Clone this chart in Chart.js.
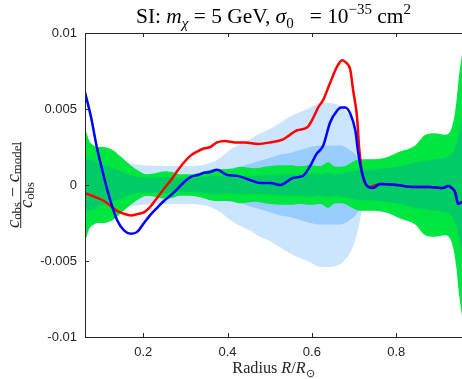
<!DOCTYPE html>
<html>
<head>
<meta charset="utf-8">
<script src="https://cdn.jsdelivr.net/npm/chart.js@4.4.1/dist/chart.umd.min.js"></script>
<style>
    html, body { margin: 0; padding: 0; background: #ffffff; }
</style>
</head>
<body>
<canvas id="residuals" width="462" height="379"></canvas>
<script>
(function () {
    "use strict";

    var xTicks = [0.2, 0.4, 0.6, 0.8];
    var yTicks = [-0.01, -0.005, 0, 0.005, 0.01];

    // green bands: half widths about zero
    var greenR = [0.062, 0.067, 0.072, 0.083, 0.095, 0.107, 0.12, 0.128, 0.145, 0.162, 0.185, 0.209, 0.233, 0.252, 0.268,
        0.287, 0.311, 0.335, 0.37, 0.406, 0.43, 0.465, 0.501, 0.525, 0.548, 0.572, 0.596, 0.62, 0.639, 0.655,
        0.679, 0.695, 0.714, 0.738, 0.774, 0.809, 0.845, 0.869, 0.892, 0.916, 0.933, 0.942, 0.949, 0.956];
    var greenOuter = [0.0037, 0.0033, 0.0029, 0.0026, 0.0025, 0.0025, 0.0024, 0.0023, 0.0019, 0.0015, 0.001, 0.0007, 0.0008, 0.0009, 0.00085,
        0.0007, 0.0007, 0.0008, 0.00105, 0.00105, 0.0012, 0.0011, 0.00125, 0.0013, 0.0013, 0.00125, 0.0013, 0.00125, 0.0015, 0.0012,
        0.00125, 0.0015, 0.0017, 0.0017, 0.0018, 0.0022, 0.0026, 0.0033, 0.0034, 0.0033, 0.0039, 0.0053, 0.0072, 0.0086];
    var greenInner = [0.0018, 0.0017, 0.0017, 0.0016, 0.0014, 0.0013, 0.0012, 0.0011, 0.0009, 0.0007, 0.00055, 0.0005, 0.0005, 0.00055, 0.0005,
        0.00045, 0.00045, 0.0005, 0.0006, 0.00055, 0.0006, 0.0006, 0.00065, 0.0007, 0.0007, 0.0007, 0.00075, 0.0007, 0.0008, 0.0007,
        0.0008, 0.0009, 0.001, 0.001, 0.0011, 0.00125, 0.0015, 0.0016, 0.0017, 0.0018, 0.0021, 0.0027, 0.0035, 0.0045];

    // blue bands: half widths about zero
    var blueBandR = [0.062, 0.1, 0.15, 0.2, 0.25, 0.3, 0.335, 0.359, 0.383, 0.406, 0.43, 0.453, 0.477, 0.501, 0.525,
        0.548, 0.572, 0.596, 0.62, 0.644, 0.667, 0.679, 0.69, 0.703, 0.712, 0.72];
    var blueOuter = [0.0006, 0.001, 0.00145, 0.0013, 0.00125, 0.00125, 0.0013, 0.00145, 0.0018, 0.0023, 0.0027, 0.003, 0.0034, 0.0037, 0.0041,
        0.0045, 0.0048, 0.0051, 0.0054, 0.0054, 0.0052, 0.0049, 0.0045, 0.0036, 0.0026, 0.00145];
    var blueInner = [0.0002, 0.0003, 0.0004, 0.0005, 0.0006, 0.00065, 0.0007, 0.0008, 0.001, 0.0011, 0.0012, 0.0014, 0.0016, 0.0018, 0.002,
        0.0021, 0.0023, 0.0025, 0.0026, 0.0026, 0.0026, 0.0025, 0.0023, 0.002, 0.0016, 0.001];

    var redR = [0.062, 0.086, 0.107, 0.138, 0.155, 0.171, 0.188, 0.202, 0.216, 0.233, 0.249, 0.266, 0.283, 0.297, 0.311,
        0.328, 0.344, 0.359, 0.375, 0.394, 0.418, 0.442, 0.472, 0.501, 0.532, 0.548, 0.565, 0.589, 0.603, 0.615,
        0.627, 0.643, 0.66, 0.672, 0.679, 0.686, 0.691, 0.698, 0.707, 0.712, 0.719, 0.726, 0.738, 0.762, 0.802,
        0.84, 0.88, 0.911, 0.923, 0.932, 0.94, 0.947, 0.956];
    var redVals = [-0.00053, -0.00079, -0.00105, -0.0017, -0.0019, -0.002, -0.0019, -0.0018, -0.00145, -0.00085, -0.00026, 0.00033, 0.001, 0.0015, 0.0019,
        0.0022, 0.0024, 0.0025, 0.0028, 0.0029, 0.0028, 0.0028, 0.0027, 0.0028, 0.003, 0.0033, 0.0036, 0.0038, 0.0044, 0.0051,
        0.0056, 0.0067, 0.0078, 0.0082, 0.0081, 0.0079, 0.0076, 0.0062, 0.0045, 0.0025, 0.0008, 0.00013, -0.00013, 0.00007, 0,
        -0.00013, -0.00013, -0.0002, -0.00007, -0.0002, -0.0005, -0.00125, -0.0011];

    var blueR = [0.062, 0.076, 0.09, 0.107, 0.124, 0.138, 0.155, 0.171, 0.185, 0.202, 0.216, 0.233, 0.249, 0.266, 0.283,
        0.297, 0.313, 0.33, 0.344, 0.359, 0.375, 0.399, 0.423, 0.453, 0.477, 0.501, 0.525, 0.536, 0.555, 0.579,
        0.596, 0.61, 0.627, 0.643, 0.66, 0.669, 0.679, 0.691, 0.703, 0.71, 0.719, 0.731, 0.745, 0.762, 0.802,
        0.84, 0.88, 0.911, 0.923, 0.932, 0.94, 0.947, 0.956];
    var blueVals = [0.0061, 0.0045, 0.0025, 0.00053, -0.0012, -0.0023, -0.003, -0.0032, -0.0031, -0.0025, -0.002, -0.0015, -0.00105, -0.00066, -0.0002,
        0.0002, 0.00053, 0.00066, 0.0008, 0.00085, 0.001, 0.00066, 0.0006, 0.00033, 0.00013, 0.00013, 0, 0.00013, 0.00046, 0.0006,
        0.00125, 0.002, 0.0026, 0.0041, 0.0049, 0.0051, 0.0051, 0.0047, 0.0036, 0.0021, 0.0008, -0.00007, -0.0002, 0.00007, 0,
        -0.00013, -0.00013, -0.0002, -0.00007, -0.0002, -0.0005, -0.00125, -0.0011];

    var AXIS = "#262626";
    var SERIF = "'Liberation Serif', 'Times New Roman', serif";

    function pts(rs, vs, sign) {
        return rs.map(function (r, i) {
            return { x: r, y: sign * vs[i] };
        });
    }

    function bandPair(rs, ws, color, order) {
        return [
            { data: pts(rs, ws, 1), fill: "+1", backgroundColor: color, borderWidth: 0, pointRadius: 0, order: order },
            { data: pts(rs, ws, -1), fill: false, borderWidth: 0, pointRadius: 0, order: order }
        ];
    }

    function lineSet(rs, vs, color, order) {
        return { data: pts(rs, vs, 1), borderColor: color, borderWidth: 2.5, pointRadius: 0, fill: false, order: order };
    }

    var datasets = []
        .concat(bandPair(blueBandR, blueOuter, "#cce5ff", 6))
        .concat(bandPair(blueBandR, blueInner, "#99ccff", 5))
        .concat(bandPair(greenR, greenOuter, "#00e640", 4))
        .concat(bandPair(greenR, greenInner, "#00cc66", 3));
    datasets.push(lineSet(redR, redVals, "#ff0000", 2));
    datasets.push(lineSet(blueR, blueVals, "#0000ff", 1));

    function runFont(r, size) {
        return (r.it ? "italic " : "") + (size * (r.s || 1)).toFixed(2) + "px " + SERIF;
    }

    function richWidth(ctx, runs, size) {
        var w = 0;
        runs.forEach(function (r) {
            ctx.font = runFont(r, size);
            w += ctx.measureText(r.t).width;
        });
        return w;
    }

    function fitSize(ctx, runs, target) {
        return 20 * target / richWidth(ctx, runs, 20);
    }

    // draws runs centred on x = 0 in the current transform
    function drawRich(ctx, runs, baseY, size) {
        var x = -richWidth(ctx, runs, size) / 2;
        ctx.textBaseline = "alphabetic";
        ctx.textAlign = "left";
        runs.forEach(function (r) {
            ctx.font = runFont(r, size);
            ctx.fillText(r.t, x, baseY + (r.dy || 0) * size);
            x += ctx.measureText(r.t).width;
        });
    }

    var titleRuns = [
        { t: "SI: " }, { t: "m", it: true }, { t: "\u03c7", it: true, s: 0.7, dy: 0.22 },
        { t: " = 5 GeV, " }, { t: "\u03c3", it: true }, { t: "0", s: 0.7, dy: 0.22 },
        { t: "   = 10" }, { t: "\u221235", s: 0.7, dy: -0.42 }, { t: " cm" }, { t: "2", s: 0.7, dy: -0.42 }
    ];
    var xLabelRuns = [
        { t: "Radius " }, { t: "R", it: true }, { t: "/" }, { t: "R", it: true }, { t: "\u2299", s: 0.7, dy: 0.25 }
    ];
    var numRuns = [
        { t: "c", it: true }, { t: "obs", s: 0.7, dy: 0.1 }, { t: " \u2212 " }, { t: "c", it: true }, { t: "model", s: 0.7, dy: 0.1 }
    ];
    var denRuns = [
        { t: "c", it: true }, { t: "obs", s: 0.7, dy: 0.1 }
    ];

    var framePlugin = {
        id: "frame",
        afterDatasetsDraw: function (chart) {
            var ctx = chart.ctx;
            var a = chart.chartArea;
            var xs = chart.scales.x;
            var ys = chart.scales.y;
            ctx.save();
            ctx.strokeStyle = AXIS;
            ctx.lineWidth = 1;
            ctx.beginPath();
            ctx.moveTo(a.left + 0.5, a.top + 0.5);
            ctx.lineTo(a.left + 0.5, a.bottom + 0.5);
            ctx.lineTo(a.right, a.bottom + 0.5);
            ctx.moveTo(a.left + 0.5, a.top + 0.5);
            ctx.lineTo(a.right, a.top + 0.5);
            xTicks.forEach(function (t) {
                var px = Math.round(xs.getPixelForValue(t)) + 0.5;
                ctx.moveTo(px, a.bottom);
                ctx.lineTo(px, a.bottom - 4);
                ctx.moveTo(px, a.top);
                ctx.lineTo(px, a.top + 4);
            });
            yTicks.forEach(function (t) {
                var py = Math.round(ys.getPixelForValue(t)) + 0.5;
                ctx.moveTo(a.left, py);
                ctx.lineTo(a.left + 4, py);
            });
            ctx.stroke();
            ctx.restore();
        },
        afterDraw: function (chart) {
            var ctx = chart.ctx;
            var a = chart.chartArea;
            var cx = (a.left + a.right) / 2;
            ctx.save();
            ctx.fillStyle = "#000000";
            ctx.translate(cx, 0);
            drawRich(ctx, titleRuns, 23, fitSize(ctx, titleRuns, 275));
            ctx.fillStyle = AXIS;
            drawRich(ctx, xLabelRuns, 373, fitSize(ctx, xLabelRuns, 83));
            ctx.restore();

            // y label as a fraction, rotated
            var fs = fitSize(ctx, numRuns, 86);
            ctx.save();
            ctx.fillStyle = AXIS;
            ctx.translate(20.7, 185);
            ctx.rotate(-Math.PI / 2);
            drawRich(ctx, numRuns, -1.6, fs);
            ctx.fillRect(-43, -0.5, 86, 1);
            ctx.translate(-10, 0);
            drawRich(ctx, denRuns, 11.5, fs);
            ctx.restore();
        }
    };

    Chart.defaults.font.family = "'Liberation Sans', Arial, sans-serif";

    new Chart(document.getElementById("residuals"), {
        type: "line",
        data: { datasets: datasets },
        options: {
            responsive: false,
            animation: false,
            layout: { padding: { top: 33, right: 0, left: 0, bottom: 0 } },
            elements: { line: { cubicInterpolationMode: "monotone" } },
            plugins: {
                legend: { display: false },
                tooltip: { enabled: false },
                filler: { propagate: false }
            },
            scales: {
                x: {
                    type: "linear",
                    min: 0.062,
                    max: 0.956,
                    afterBuildTicks: function (scale) {
                        scale.ticks = xTicks.map(function (v) { return { value: v }; });
                    },
                    afterFit: function (scale) { scale.height = 42; },
                    grid: { display: false, drawTicks: false },
                    border: { display: false },
                    ticks: {
                        color: AXIS,
                        font: { size: 13 },
                        padding: 8,
                        maxRotation: 0,
                        callback: function (v) { return String(parseFloat(v.toFixed(3))); }
                    }
                },
                y: {
                    min: -0.01,
                    max: 0.01,
                    afterBuildTicks: function (scale) {
                        scale.ticks = yTicks.map(function (v) { return { value: v }; });
                    },
                    afterFit: function (scale) { scale.width = 85; },
                    grid: { display: false, drawTicks: false },
                    border: { display: false },
                    ticks: {
                        color: AXIS,
                        font: { size: 13 },
                        padding: 8,
                        callback: function (v) { return String(parseFloat(v.toFixed(4))); }
                    }
                }
            }
        },
        plugins: [framePlugin]
    });
})();
</script>
</body>
</html>
